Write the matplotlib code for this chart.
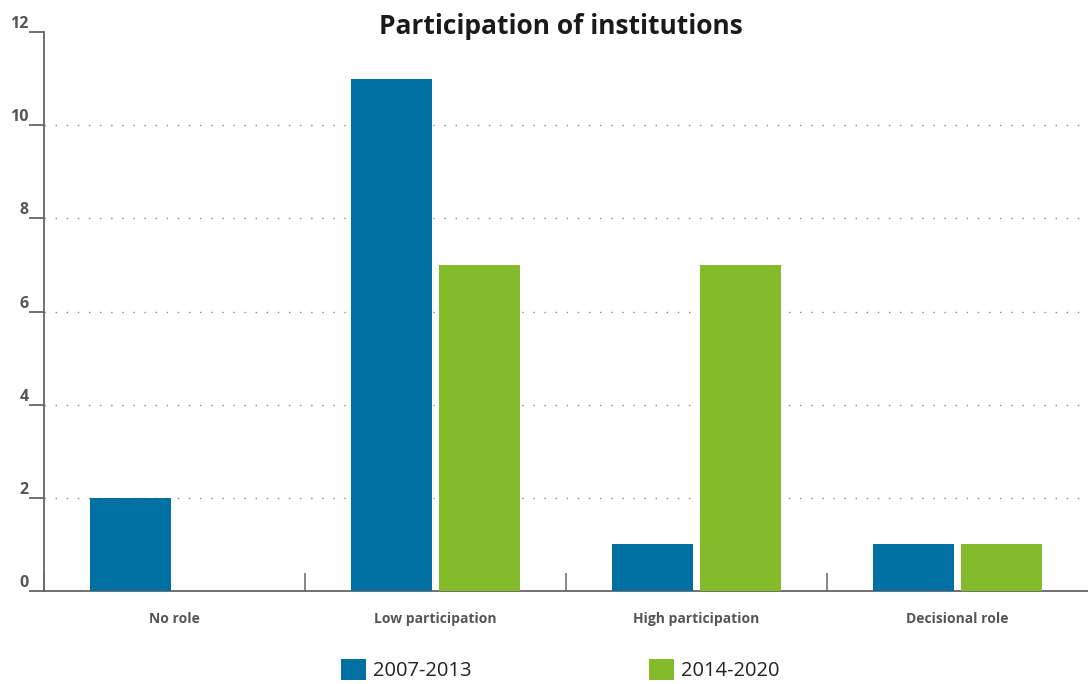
import numpy as np
import matplotlib.pyplot as plt
from matplotlib.patches import Patch

# Data
categories = ["No role", "Low participation", "High participation", "Decisional role"]
series_names = ["2007-2013", "2014-2020"]
values_0713 = [2, 11, 1, 1]
values_1420 = [0, 7, 7, 1]
y_ticks = [0, 2, 4, 6, 8, 10, 12]

blue = "#006fa2"
green = "#84bb2a"
grey = "#666666"

plt.rcParams["font.family"] = ["Open Sans", "DejaVu Sans"]

fig = plt.figure(figsize=(10.88, 6.84), dpi=100)
ax = fig.add_axes([44 / 1088, 93 / 684, 1044 / 1088, 559 / 684])

x = np.arange(len(categories)) + 0.5
width = 0.31
ax.bar(x - 0.167, values_0713, width, color=blue, zorder=3)
ax.bar(x + 0.168, values_1420, width, color=green, zorder=3)

ax.set_xlim(0, len(categories))
ax.set_ylim(0, 12)

# dotted grid lines (none at the top)
for t in y_ticks[:-1]:
    ax.axhline(t, color="#888888", lw=1, ls=(0, (1, 7)), zorder=1)

ax.spines["top"].set_visible(False)
ax.spines["right"].set_visible(False)
for s in ["left", "bottom"]:
    ax.spines[s].set_color(grey)
    ax.spines[s].set_linewidth(1.3)

ax.set_yticks(y_ticks)
ax.set_yticklabels([str(t) for t in y_ticks], fontsize=11.5, fontweight="bold", color="#555555")
ax.tick_params(axis="y", direction="out", length=11, width=1.3, color=grey, pad=0)
for lbl in ax.get_yticklabels():
    lbl.set_va("bottom")

# category boundaries as inward ticks, names at centres
ax.set_xticks(np.arange(len(categories)))
ax.set_xticklabels([])
ax.tick_params(axis="x", which="major", direction="in", length=13, width=1.1, color=grey)
ax.set_xticks(x, minor=True)
ax.set_xticklabels(categories, minor=True, fontsize=10, fontweight="bold", color="#555555")
ax.tick_params(axis="x", which="minor", length=0, pad=15)

fig.text(561 / 1088, 1 - 26 / 684, "Participation of institutions", ha="center", va="center",
         fontsize=19, fontweight="bold", color="#1a1a1a")

handles = [Patch(facecolor=blue), Patch(facecolor=green)]
fig.legend(handles, series_names, loc="lower center", bbox_to_anchor=(0.515, -0.022), ncol=2,
           frameon=False, fontsize=14.5, handlelength=1.25, handleheight=1.25,
           handletextpad=0.35, columnspacing=8.8, labelcolor="#222222")

fig.savefig("out.png", dpi=100)
